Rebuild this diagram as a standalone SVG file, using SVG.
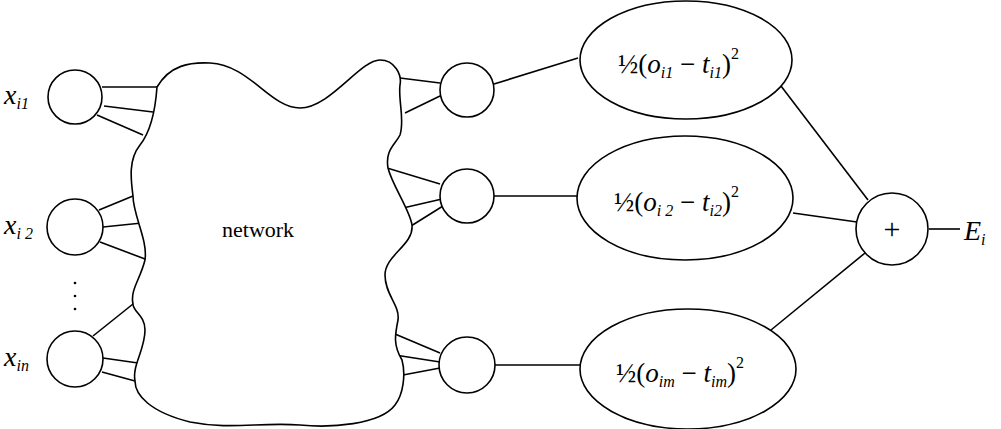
<svg xmlns="http://www.w3.org/2000/svg" width="1001" height="429" viewBox="0 0 1001 429">
<style>
.s{fill:none;stroke:#000;stroke-width:1.6}
.n{fill:#fff;stroke:#000;stroke-width:1.6}
text{font-family:"Liberation Serif","DejaVu Serif","Times New Roman",serif;fill:#000}
.v{font-style:italic;font-size:28px}
.sb{font-size:16px}
.e{font-size:27px}
</style>
<g id="connectors" class="s">
<line x1="102" y1="87" x2="157" y2="87"/><line x1="104" y1="106" x2="153" y2="112"/><line x1="97" y1="115" x2="143" y2="135"/>
<line x1="99" y1="210" x2="133" y2="196"/><line x1="103" y1="227" x2="142" y2="223"/><line x1="100" y1="242" x2="145" y2="259"/>
<line x1="93" y1="336" x2="133" y2="304"/><line x1="103" y1="358" x2="138" y2="363"/><line x1="102" y1="372" x2="135" y2="381"/>
<line x1="400" y1="78" x2="440" y2="83"/><line x1="405" y1="113" x2="440" y2="96"/>
<line x1="387" y1="168" x2="440" y2="184"/><line x1="403" y1="208" x2="442" y2="199"/><line x1="411" y1="226" x2="443" y2="206"/>
<line x1="395" y1="334" x2="440" y2="353"/><line x1="395" y1="355" x2="440" y2="362"/><line x1="403" y1="375" x2="440" y2="368"/>
<line x1="494" y1="84" x2="578" y2="58"/><line x1="494" y1="196" x2="577" y2="196"/><line x1="495" y1="365" x2="580" y2="365"/>
<line x1="781" y1="86" x2="868" y2="200"/><line x1="793" y1="213" x2="857" y2="222"/><line x1="771" y1="330" x2="865" y2="253"/>
<line x1="929" y1="229" x2="960" y2="229"/>
</g>
<g id="network">
<path class="n" d="M157,87 C170,65 190,62 210,63 C250,65 270,108 300,108 C330,108 360,60 380,60 C395,60 402,75 400,85 C398,100 405,120 400,135 C395,145 385,150 388,168 C392,185 410,210 412,225 C414,245 385,255 385,275 C385,295 400,305 398,320 C395,335 393,345 402,360 C406,375 403,395 395,405 C380,425 330,428 300,425 C260,422 230,430 190,422 C150,412 135,395 135,381 C132,365 145,350 145,330 C145,315 133,312 133,304 C130,290 140,280 145,260 C148,240 133,215 133,196 C131,180 128,160 140,145 C148,135 155,115 157,87 Z"/>
<text x="222" y="237" font-size="22">network</text>
</g>
<g id="x1"><circle class="n" cx="75" cy="97" r="27"/><text x="4" y="104" class="v">x<tspan class="sb" dy="5">i1</tspan></text></g>
<g id="x2"><circle class="n" cx="75" cy="227" r="28"/><text x="4" y="234" class="v">x<tspan class="sb" dy="5">i 2</tspan></text></g>
<g id="dots"><circle cx="75" cy="283" r="1.3"/><circle cx="75" cy="296" r="1.3"/><circle cx="75" cy="309" r="1.3"/></g>
<g id="xn"><circle class="n" cx="75" cy="359" r="28"/><text x="4" y="366" class="v">x<tspan class="sb" dy="5">in</tspan></text></g>
<g id="o1"><circle class="n" cx="467" cy="90" r="27"/></g>
<g id="o2"><circle class="n" cx="467" cy="196" r="27"/></g>
<g id="om"><circle class="n" cx="467" cy="365" r="28"/></g>
<g id="e1"><ellipse class="n" cx="686" cy="60" rx="106" ry="59"/><text x="618" y="73" class="e">½(<tspan font-style="italic">o</tspan><tspan class="sb" font-style="italic" dy="5">i1</tspan><tspan dy="-5"> − </tspan><tspan font-style="italic">t</tspan><tspan class="sb" font-style="italic" dy="5">i1</tspan><tspan dy="-5">)</tspan><tspan class="sb" dy="-14">2</tspan></text></g>
<g id="e2"><ellipse class="n" cx="685" cy="198" rx="108" ry="62"/><text x="614" y="211" class="e">½(<tspan font-style="italic">o</tspan><tspan class="sb" font-style="italic" dy="5">i 2</tspan><tspan dy="-5"> − </tspan><tspan font-style="italic">t</tspan><tspan class="sb" font-style="italic" dy="5">i2</tspan><tspan dy="-5">)</tspan><tspan class="sb" dy="-14">2</tspan></text></g>
<g id="em"><ellipse class="n" cx="688" cy="369" rx="108" ry="60"/><text x="616" y="382" class="e">½(<tspan font-style="italic">o</tspan><tspan class="sb" font-style="italic" dy="5">im</tspan><tspan dy="-5"> − </tspan><tspan font-style="italic">t</tspan><tspan class="sb" font-style="italic" dy="5">im</tspan><tspan dy="-5">)</tspan><tspan class="sb" dy="-14">2</tspan></text></g>
<g id="sum"><circle class="n" cx="892" cy="229" r="36"/><text x="892" y="239" font-size="30" text-anchor="middle">+</text></g>
<g id="E"><text x="964" y="240" class="v">E<tspan class="sb" dy="5">i</tspan></text></g>
</svg>
